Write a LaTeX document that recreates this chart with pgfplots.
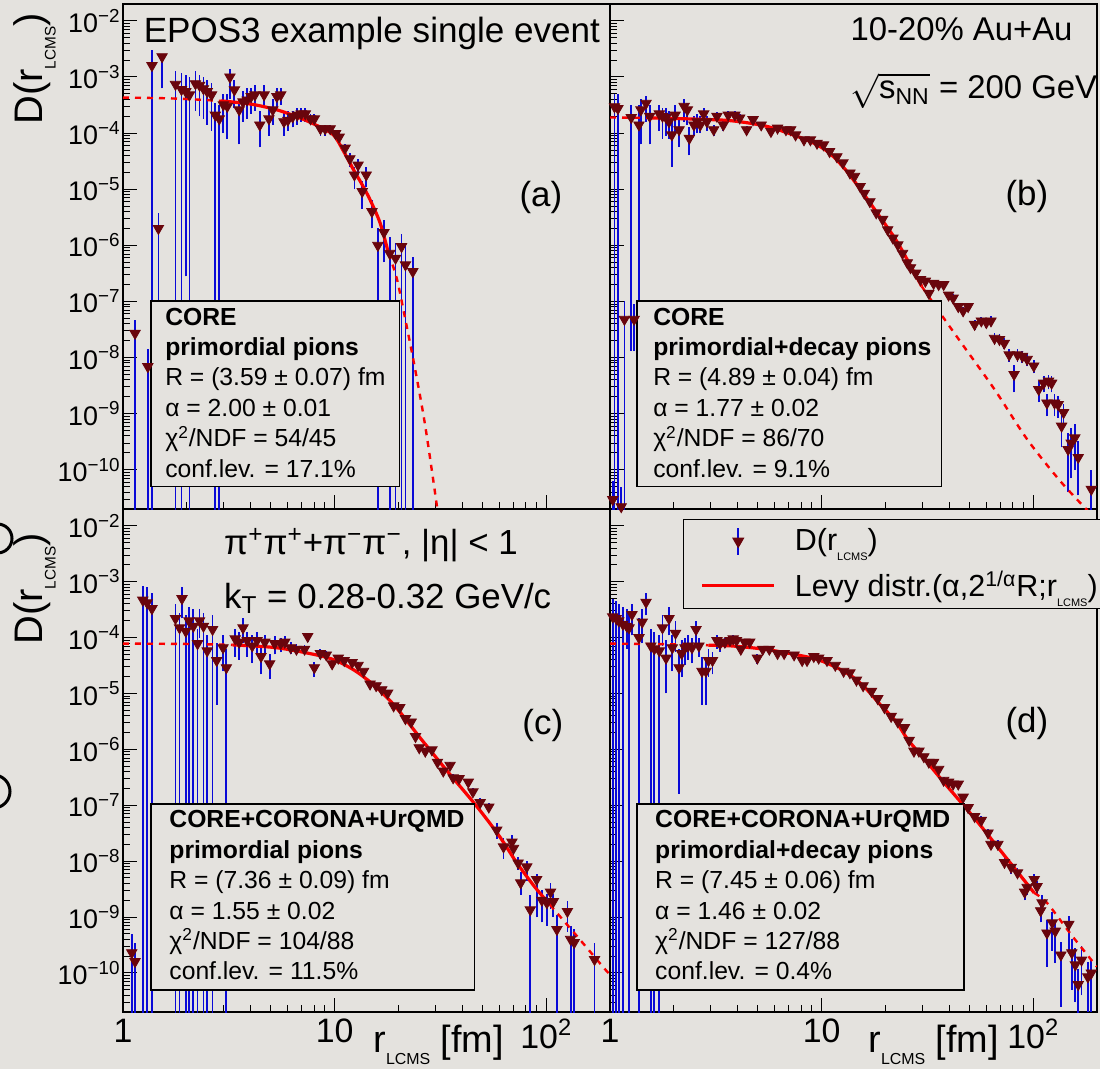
\documentclass[border=0pt]{standalone}
\usepackage{fontspec}
\setmainfont{Liberation Sans}
\usepackage{pgfplots}
\usepackage{pgfplotstable}
\pgfplotsset{compat=1.18}

\definecolor{bgc}{RGB}{228,226,222}
\definecolor{mkc}{RGB}{105,5,12}
\definecolor{ebc}{RGB}{10,10,215}
\definecolor{fitc}{RGB}{250,0,0}

\newcommand{\lcms}[1]{\raisebox{-0.32em}{\fontsize{#1}{#1}\selectfont LCMS}}
\newcommand{\stat}[1]{\begin{tabular}[t]{@{}l@{}}#1\end{tabular}}
\newcommand{\boxf}{\fontsize{12.4}{15.25}\selectfont}
\newcommand{\bigf}{\fontsize{17.5}{20}\selectfont}

% r  y  lo  hi   (lo = 1e-12 : bar runs below the frame)
\pgfplotstableread{
r y lo hi
1.14 2.7e-8 1e-12 4.7e-8
1.31 6.9e-9 1e-12 1.4e-8
1.37 1.6e-3 1e-12 3.0e-3
1.47 2.0e-6 1e-7 3.7e-6
1.53 2.3e-3 6.3e-4 2.6e-3
1.77 7.4e-4 1e-12 1.3e-3
1.89 6.0e-4 1e-12 1.2e-3
1.98 5.5e-4 2.8e-7 1.1e-3
2.06 4.8e-4 1e-12 1.0e-3
2.20 7.6e-4 2.5e-4 1.26e-3
2.30 7.1e-4 2.0e-4 1.1e-3
2.40 6.2e-4 1.8e-4 1.0e-3
2.50 5.5e-4 1.4e-4 8.9e-4
2.62 4.8e-4 1.1e-4 7.9e-4
2.73 2.1e-4 1e-12 3.5e-4
2.85 1.8e-4 1e-12 3.2e-4
2.98 3.2e-4 1.0e-4 5.0e-4
3.11 3.0e-4 7.9e-5 5.0e-4
3.20 1.0e-3 4.0e-4 1.4e-3
3.36 5.9e-4 2.8e-4 8.9e-4
3.54 2.6e-4 6.3e-5 4.0e-4
3.69 3.6e-4 1.6e-4 5.6e-4
3.86 3.9e-4 1.8e-4 6.3e-4
4.03 4.5e-4 2.2e-4 6.3e-4
4.20 4.8e-4 2.5e-4 7.1e-4
4.43 1.4e-4 5.6e-5 2.5e-4
4.64 4.8e-4 2.8e-4 7.1e-4
4.89 1.8e-4 8.9e-5 2.8e-4
5.10 2.6e-4 1.4e-4 4.0e-4
5.33 4.5e-4 2.8e-4 6.3e-4
5.56 4.8e-4 3.2e-4 6.3e-4
5.76 1.6e-4 8.9e-5 2.5e-4
6.01 1.7e-4 1.1e-4 2.5e-4
6.33 1.95e-4 1.26e-4 2.5e-4
6.66 2.1e-4 1.4e-4 2.8e-4
6.96 2.2e-4 1.6e-4 2.8e-4
7.27 2.2e-4 1.6e-4 2.8e-4
7.69 1.8e-4 1.4e-4 2.2e-4
8.02 1.8e-4 1.4e-4 2.2e-4
8.57 1.2e-4 8.9e-5 1.4e-4
9.02 1.2e-4 8.9e-5 1.4e-4
9.53 1.2e-4 1.0e-4 1.4e-4
10.1 9.8e-5 7.9e-5 1.1e-4
10.5 8.5e-5 7.1e-5 1.0e-4
11.2 5.4e-5 4.5e-5 6.3e-5
11.8 3.5e-5 2.5e-5 4.5e-5
12.4 1.8e-5 1.0e-5 2.5e-5
12.9 2.7e-5 1.8e-5 3.5e-5
13.5 9.1e-6 4.5e-6 1.4e-5
14.1 1.8e-5 1.1e-5 2.5e-5
15.0 4.0e-6 2.0e-6 6.3e-6
16.0 1.0e-6 1e-12 2.0e-6
17.1 1.7e-6 5.0e-7 2.8e-6
18.2 7.2e-7 1e-12 1.4e-6
19.4 5.9e-7 1e-12 1.1e-6
20.7 9.5e-7 1e-12 1.6e-6
21.6 4.5e-7 1e-12 1.0e-6
23.4 3.4e-7 1e-12 6.3e-7
}\dataA

\pgfplotstableread{
r y lo hi
1.03 2.95e-11 1e-12 6.3e-11
1.05 2.95e-4 1e-12 5.0e-4
1.09 2.75e-4 1e-12 5.0e-4
1.13 2.2e-11 1e-12 5.0e-11
1.17 4.8e-8 1e-12 1.0e-7
1.26 1.9e-4 1.3e-8 3.2e-4
1.30 4.8e-8 1.3e-8 9.0e-8
1.37 1.4e-4 1.3e-8 3.2e-4
1.40 2.6e-4 6.3e-5 4.0e-4
1.48 3.4e-4 1.6e-4 4.5e-4
1.54 2.0e-4 6.3e-5 3.2e-4
1.71 2.2e-4 1.1e-4 3.2e-4
1.77 2.0e-4 7.9e-5 2.8e-4
1.84 1.9e-4 8.9e-5 2.8e-4
1.90 1.6e-4 7.9e-5 2.5e-4
1.96 9.3e-5 2.5e-5 1.6e-4
2.03 2.1e-4 1.0e-4 3.2e-4
2.12 1.15e-4 5.6e-5 1.8e-4
2.24 3.0e-4 1.6e-4 4.0e-4
2.32 2.6e-4 1.4e-4 3.5e-4
2.37 8.1e-5 4.0e-5 1.26e-4
2.49 1.4e-4 8.9e-5 2.0e-4
2.58 1.6e-4 1.0e-4 2.2e-4
2.67 1.4e-4 1.0e-4 2.0e-4
2.77 2.2e-4 1.6e-4 2.8e-4
2.87 1.6e-4 1.1e-4 2.0e-4
3.09 1.15e-4 8.9e-5 1.4e-4
3.20 2.0e-4 1.6e-4 2.4e-4
3.43 1.4e-4 1.1e-4 1.8e-4
3.62 2.1e-4 1.75e-4 2.45e-4
3.89 2.1e-4 1.75e-4 2.45e-4
4.10 1.86e-4 1.6e-4 2.2e-4
4.42 1.15e-4 9.5e-5 1.35e-4
4.74 1.74e-4 1.5e-4 2.0e-4
5.18 1.4e-4 1.23e-4 1.6e-4
5.76 1.07e-4 9.3e-5 1.23e-4
6.19 1.23e-4 1.1e-4 1.4e-4
6.78 1.15e-4 1.03e-4 1.3e-4
7.14 1.15e-4 1.03e-4 1.3e-4
7.53 9.3e-5 8.3e-5 1.05e-4
8.25 7.6e-5 6.8e-5 8.5e-5
8.85 7.6e-5 6.8e-5 8.5e-5
9.51 6.6e-5 5.9e-5 7.4e-5
10.2 6.2e-5 5.6e-5 6.9e-5
10.9 4.7e-5 4.2e-5 5.2e-5
11.8 3.8e-5 3.4e-5 4.2e-5
12.6 2.95e-5 2.65e-5 3.3e-5
13.6 1.95e-5 1.75e-5 2.2e-5
14.3 1.7e-5 1.5e-5 1.9e-5
15.2 1.12e-5 1.0e-5 1.25e-5
15.9 8.5e-6 7.6e-6 9.5e-6
16.9 6.0e-6 5.4e-6 6.7e-6
18.1 3.8e-6 3.4e-6 4.2e-6
19.4 2.9e-6 2.6e-6 3.2e-6
20.5 1.9e-6 1.7e-6 2.1e-6
21.7 1.35e-6 1.2e-6 1.5e-6
22.9 1.02e-6 9.0e-7 1.15e-6
24.1 7.2e-7 6.3e-7 8.1e-7
25.4 4.9e-7 4.3e-7 5.5e-7
26.3 4.0e-7 3.5e-7 4.5e-7
27.8 3.2e-7 2.8e-7 3.6e-7
29.3 2.45e-7 2.1e-7 2.8e-7
30.9 2.3e-7 2.0e-7 2.6e-7
32.1 1.4e-7 1.2e-7 1.6e-7
33.8 2.1e-7 1.8e-7 2.4e-7
35.7 2.0e-7 1.7e-7 2.3e-7
37.7 2.0e-7 1.7e-7 2.3e-7
39.8 1.3e-7 1.1e-7 1.5e-7
41.8 1.15e-7 9.5e-8 1.35e-7
44.2 8.1e-8 6.8e-8 9.5e-8
46.6 6.8e-8 5.6e-8 8.0e-8
49.2 8.1e-8 6.8e-8 9.5e-8
52.8 3.9e-8 3.1e-8 4.7e-8
56.8 4.5e-8 3.7e-8 5.3e-8
60.0 4.2e-8 3.4e-8 5.0e-8
63.1 4.5e-8 3.6e-8 5.4e-8
65.6 2.2e-8 1.7e-8 2.7e-8
69.2 2.1e-8 1.6e-8 2.6e-8
72.9 1.8e-8 1.4e-8 2.2e-8
76.9 1.12e-8 8.5e-9 1.4e-8
81.1 5.0e-9 2.4e-9 7.5e-9
84.2 1.12e-8 8.5e-9 1.4e-8
88.8 1.05e-8 8.0e-9 1.3e-8
93.5 9.3e-9 7.0e-9 1.15e-8
100.5 7.1e-9 5.3e-9 9.0e-9
106 2.7e-9 1.6e-9 3.8e-9
112 3.5e-9 2.4e-9 4.6e-9
116 1.55e-9 9.0e-10 2.2e-9
118 3.8e-9 2.7e-9 4.9e-9
122 3.5e-9 2.4e-9 4.6e-9
126 1.55e-9 9.0e-10 2.2e-9
131 1.45e-9 8.5e-10 2.1e-9
136 6.0e-10 2.5e-10 9.5e-10
139 1.05e-9 5.5e-10 1.5e-9
146 2.3e-10 4.0e-11 4.5e-10
151 3.0e-10 7.0e-11 5.5e-10
157 3.7e-10 1.0e-10 6.5e-10
163 1.66e-10 3.5e-11 3.2e-10
188 4.5e-11 1e-12 1.0e-10
}\dataB

\pgfplotstableread{
r y lo hi
1.10 2.3e-10 1e-12 5.0e-10
1.14 1.6e-10 1e-12 3.5e-10
1.24 4.7e-4 1e-12 8.5e-4
1.30 4.2e-4 1e-12 8.0e-4
1.37 3.3e-4 1e-12 6.3e-4
1.77 2.2e-4 1e-12 4.0e-4
1.85 1.5e-4 1e-12 2.8e-4
1.90 5.0e-4 2.2e-4 8.0e-4
1.98 1.3e-4 1e-12 2.5e-4
2.05 2.0e-4 1e-12 3.5e-4
2.15 1.6e-4 1e-12 3.2e-4
2.25 7.8e-5 1e-12 1.4e-4
2.30 2.0e-4 1.0e-4 3.2e-4
2.40 1.6e-4 1e-12 2.8e-4
2.50 5.8e-5 1e-12 1.1e-4
2.65 1.4e-4 1e-12 2.5e-4
2.77 3.9e-5 6.3e-6 8.0e-5
2.97 6.6e-5 2.5e-5 1.1e-4
3.08 2.9e-5 1e-12 6.3e-5
3.39 9.5e-5 4.5e-5 1.4e-4
3.54 8.3e-5 4.0e-5 1.26e-4
3.69 1.5e-4 7.9e-5 2.2e-4
3.86 8.9e-5 4.5e-5 1.26e-4
4.08 7.1e-5 3.5e-5 1.1e-4
4.30 8.9e-5 5.0e-5 1.26e-4
4.49 4.6e-5 2.2e-5 7.1e-5
4.68 8.3e-5 5.0e-5 1.1e-4
4.93 3.4e-5 1.8e-5 5.0e-5
5.21 7.8e-5 5.0e-5 1.05e-4
5.56 7.8e-5 5.5e-5 1.0e-4
5.81 8.3e-5 6.0e-5 1.05e-4
6.20 6.6e-5 5.0e-5 8.3e-5
6.60 6.2e-5 4.8e-5 7.6e-5
7.21 6.2e-5 4.9e-5 7.4e-5
7.46 1.05e-4 8.5e-5 1.2e-4
8.02 2.9e-5 2.0e-5 3.6e-5
8.56 5.2e-5 4.2e-5 6.2e-5
9.13 4.9e-5 4.1e-5 5.8e-5
9.73 3.4e-5 2.8e-5 4.0e-5
10.4 4.3e-5 3.7e-5 4.9e-5
11.1 3.9e-5 3.4e-5 4.4e-5
12.1 3.6e-5 3.2e-5 4.0e-5
12.9 3.2e-5 2.8e-5 3.6e-5
13.7 2.5e-5 2.2e-5 2.8e-5
14.7 1.48e-5 1.3e-5 1.65e-5
15.7 1.38e-5 1.22e-5 1.55e-5
16.7 1.17e-5 1.04e-5 1.3e-5
17.8 1.02e-5 9.0e-6 1.15e-5
19.0 6.0e-6 5.3e-6 6.8e-6
20.3 5.6e-6 5.0e-6 6.3e-6
21.6 3.55e-6 3.1e-6 4.0e-6
23.0 3.1e-6 2.75e-6 3.5e-6
24.1 1.7e-6 1.5e-6 1.9e-6
25.1 1.07e-6 9.4e-7 1.2e-6
26.8 9.3e-7 8.2e-7 1.05e-6
28.8 9.8e-7 8.6e-7 1.1e-6
30.6 5.9e-7 5.1e-7 6.7e-7
32.6 4.1e-7 3.5e-7 4.7e-7
35.1 5.2e-7 4.5e-7 6.0e-7
36.3 3.1e-7 2.6e-7 3.6e-7
38.7 3.0e-7 2.5e-7 3.5e-7
42.8 2.6e-7 2.2e-7 3.0e-7
45.0 1.74e-7 1.45e-7 2.0e-7
48.7 1.12e-7 9.0e-8 1.35e-7
53.5 9.3e-8 7.5e-8 1.1e-7
58.3 3.6e-8 2.5e-8 4.8e-8
62.8 1.8e-8 1.1e-8 2.6e-8
68.8 2.2e-8 1.6e-8 2.9e-8
70.0 1.7e-8 1.0e-8 2.3e-8
73.6 9.3e-9 7.0e-9 1.2e-8
75.7 4.1e-9 2.5e-9 6.3e-9
80.8 7.9e-9 4.5e-9 1.0e-8
84.0 1.35e-9 1e-12 2.5e-9
90.0 4.7e-9 1.0e-9 6.0e-9
95.3 2.0e-9 8.0e-10 3.0e-9
100.6 1.8e-9 7.0e-10 2.6e-9
104.7 2.8e-9 1.4e-9 4.0e-9
108.0 1.9e-9 1.0e-9 2.6e-9
112.2 6.0e-10 1e-12 1.1e-9
125.8 1.26e-9 5.5e-10 1.9e-9
130.3 4.0e-10 1e-12 7.0e-10
135.5 3.5e-10 1e-12 6.0e-10
169 1.74e-10 1e-12 3.4e-10
}\dataC

\pgfplotstableread{
r y lo hi
1.03 2.35e-4 1e-12 5.0e-4
1.07 2.2e-4 1e-12 4.5e-4
1.10 2.0e-4 1e-12 4.0e-4
1.15 1.74e-4 1e-12 3.5e-4
1.20 1.6e-4 6.3e-5 3.2e-4
1.23 1.5e-4 1e-12 2.8e-4
1.27 2.6e-4 1.1e-4 4.0e-4
1.37 1.0e-4 1e-12 2.2e-4
1.42 1.9e-4 7.9e-5 3.2e-4
1.48 4.3e-4 2.5e-4 6.3e-4
1.56 7.1e-5 1e-12 1.4e-4
1.62 6.3e-5 1e-12 1.26e-4
1.71 5.8e-5 1e-12 1.1e-4
1.77 1.5e-4 7.1e-5 2.5e-4
1.84 4.3e-5 1.0e-5 8.9e-5
1.90 2.2e-4 1.1e-4 3.5e-4
1.97 6.6e-5 2.5e-5 1.1e-4
2.04 1.2e-4 5.6e-5 2.0e-4
2.12 2.9e-5 1.6e-7 6.3e-5
2.18 5.2e-5 2.0e-5 8.9e-5
2.26 6.6e-5 3.2e-5 1.0e-4
2.34 7.1e-5 4.0e-5 1.1e-4
2.44 6.6e-5 3.5e-5 1.0e-4
2.55 1.4e-4 7.9e-5 2.0e-4
2.63 7.1e-5 4.5e-5 1.0e-4
2.72 2.5e-5 6.3e-6 4.5e-5
2.84 2.5e-5 6.3e-6 4.5e-5
2.92 3.9e-5 2.0e-5 6.3e-5
3.05 3.9e-5 2.2e-5 5.6e-5
3.20 8.9e-5 6.3e-5 1.1e-4
3.31 7.8e-5 5.6e-5 1.0e-4
3.49 8.3e-5 6.5e-5 1.0e-4
3.69 8.9e-5 7.2e-5 1.05e-4
3.82 9.5e-5 7.8e-5 1.1e-4
3.96 8.9e-5 7.4e-5 1.05e-4
4.15 6.2e-5 5.0e-5 7.4e-5
4.33 8.3e-5 7.0e-5 9.6e-5
4.57 8.3e-5 7.0e-5 9.6e-5
4.97 4.3e-5 3.4e-5 5.1e-5
5.27 6.2e-5 5.3e-5 7.1e-5
5.66 6.2e-5 5.4e-5 7.0e-5
6.19 5.2e-5 4.6e-5 5.9e-5
6.65 5.2e-5 4.6e-5 5.9e-5
7.41 4.9e-5 4.4e-5 5.4e-5
8.09 3.9e-5 3.5e-5 4.3e-5
8.53 3.9e-5 3.5e-5 4.3e-5
9.18 4.6e-5 4.1e-5 5.1e-5
9.68 4.3e-5 3.9e-5 4.7e-5
10.6 3.9e-5 3.5e-5 4.3e-5
11.6 3.2e-5 2.9e-5 3.5e-5
12.7 2.5e-5 2.25e-5 2.75e-5
13.6 2.35e-5 2.1e-5 2.6e-5
14.6 1.74e-5 1.57e-5 1.9e-5
15.7 1.38e-5 1.24e-5 1.52e-5
17.2 1.1e-5 9.9e-6 1.2e-5
18.4 8.1e-6 7.3e-6 8.9e-6
19.8 5.6e-6 5.0e-6 6.2e-6
21.3 3.9e-6 3.5e-6 4.3e-6
22.9 3.1e-6 2.8e-6 3.4e-6
24.6 2.45e-6 2.2e-6 2.7e-6
25.9 1.45e-6 1.3e-6 1.6e-6
27.3 9.3e-7 8.3e-7 1.03e-6
28.8 9.3e-7 8.3e-7 1.03e-6
30.4 7.4e-7 6.6e-7 8.2e-7
32.1 5.9e-7 5.2e-7 6.6e-7
33.8 5.9e-7 5.2e-7 6.6e-7
35.7 4.4e-7 3.9e-7 4.9e-7
37.7 2.8e-7 2.45e-7 3.15e-7
39.8 2.6e-7 2.3e-7 2.9e-7
41.8 2.4e-7 2.1e-7 2.7e-7
44.2 2.4e-7 2.1e-7 2.7e-7
46.6 1.4e-7 1.2e-7 1.6e-7
49.2 9.1e-8 7.8e-8 1.04e-7
52.8 6.3e-8 5.3e-8 7.3e-8
56.8 5.4e-8 4.5e-8 6.3e-8
61.1 3.2e-8 2.6e-8 3.8e-8
63.1 2.0e-8 1.6e-8 2.4e-8
68.0 2.0e-8 1.6e-8 2.4e-8
73.1 9.5e-9 7.5e-9 1.15e-8
78.6 7.8e-9 6.0e-9 9.6e-9
84.2 6.2e-9 4.7e-9 7.7e-9
91.0 2.8e-9 2.0e-9 3.7e-9
93.5 3.4e-9 2.5e-9 4.3e-9
101 4.7e-9 3.5e-9 5.8e-9
104 3.5e-9 2.6e-9 4.4e-9
108.3 1.3e-9 8.0e-10 1.8e-9
110 1.8e-9 1.2e-9 2.5e-9
116 5.2e-10 1.3e-10 9.0e-10
123 7.9e-10 2.5e-10 1.25e-9
127 5.6e-10 1.5e-10 9.0e-10
135 2.1e-10 2.5e-11 3.6e-10
147 7.4e-10 2.5e-10 1.05e-9
152 2.3e-10 5.0e-11 4.1e-10
158 1.4e-10 3.0e-11 2.8e-10
163 6.2e-11 1e-12 1.2e-10
169 1.7e-10 4.0e-11 3.0e-10
181 8.5e-11 2.0e-11 1.6e-10
188 1.0e-10 2.0e-11 1.8e-10
}\dataD

\pgfplotsset{
  every axis/.append style={
    xmode=log, ymode=log, scale only axis, width=243.5bp,
    xmin=1, xmax=200, ymin=2e-11, ymax=2e-2,
    axis line style={line width=0.6bp},
    tick align=inside, xtick pos=bottom, ytick pos=left,
    major tick length=7bp, minor tick length=3.5bp,
    every tick/.append style={line width=0.5bp, black},
    xtick={1,10,100},
    minor xtick={2,3,4,5,6,7,8,9,20,30,40,50,60,70,80,90,200},
    ytick={1e-10,1e-9,1e-8,1e-7,1e-6,1e-5,1e-4,1e-3,1e-2},
    minor ytick={2e-11,3e-11,4e-11,5e-11,6e-11,7e-11,8e-11,9e-11,
      2e-10,3e-10,4e-10,5e-10,6e-10,7e-10,8e-10,9e-10,
      2e-9,3e-9,4e-9,5e-9,6e-9,7e-9,8e-9,9e-9,
      2e-8,3e-8,4e-8,5e-8,6e-8,7e-8,8e-8,9e-8,
      2e-7,3e-7,4e-7,5e-7,6e-7,7e-7,8e-7,9e-7,
      2e-6,3e-6,4e-6,5e-6,6e-6,7e-6,8e-6,9e-6,
      2e-5,3e-5,4e-5,5e-5,6e-5,7e-5,8e-5,9e-5,
      2e-4,3e-4,4e-4,5e-4,6e-4,7e-4,8e-4,9e-4,
      2e-3,3e-3,4e-3,5e-3,6e-3,7e-3,8e-3,9e-3,2e-2},
    xticklabel style={font=\fontsize{17}{18}\selectfont},
    yticklabel style={font=\fontsize{13.5}{14}\selectfont, inner xsep=1bp},
  },
  % markers only, with every error-bar setting switched off
  myP/.style={color=ebc, only marks, mark=triangle*, mark size=3bp,
    mark options={rotate=180, fill=mkc, draw=mkc},
    error bars/y dir=none, error bars/x dir=none},
  % bars only: the plot itself draws nothing (no line, invisible zero-size marks)
  myE/.style={color=ebc, forget plot, only marks, mark=*, mark size=0pt,
    mark options={draw=none, fill=none},
    error bars/x dir=none, error bars/y dir=plus, error bars/y explicit, error bars/error mark=none,
    error bars/error bar style={draw=ebc, solid, line width=0.9bp}},
  myL/.style={color=fitc, line width=1.6bp, smooth, no markers,
    error bars/y dir=none, error bars/x dir=none},
  myD/.style={color=fitc, line width=1.2bp, dash pattern=on 3bp off 3bp, smooth, no markers,
    forget plot, error bars/y dir=none, error bars/x dir=none},
}

\begin{document}
\begin{tikzpicture}
\path[use as bounding box, fill=bgc] (-61.5bp,-28.5bp) rectangle (488.5bp,506bp);
\draw[black, line width=1.5bp] (-62.75bp,236.75bp) circle (7.25bp);
\draw[black, line width=1.5bp] (-64.75bp,110.25bp) circle (8.25bp);

% ---------------- (c) bottom left
\begin{axis}[name=c, at={(0bp,0bp)}, anchor=south west, height=251.5bp,
  xticklabels={1,10,10\textsuperscript{2}},
  yticklabels={10\textsuperscript{−10},10\textsuperscript{−9},10\textsuperscript{−8},
      10\textsuperscript{−7},10\textsuperscript{−6},10\textsuperscript{−5},
      10\textsuperscript{−4},10\textsuperscript{−3},10\textsuperscript{−2}}]
\addplot[myE] table[x=r, y=lo, y error plus expr=\thisrow{hi}-\thisrow{lo}] {\dataC};
\addplot[myP] table[x=r, y=y] {\dataC};
\addplot[myD] coordinates {(1,7.8e-5) (2,7.7e-5) (3.3,7.4e-5)};
\addplot[myL, forget plot] coordinates {(3.3,7.4e-5) (5.3,6.6e-5) (8.2,4.9e-5) (10.1,3.9e-5)
  (12.6,2.5e-5) (15.7,1.3e-5) (19.4,5.8e-6) (25.8,1.48e-6) (35,3.6e-7) (47,9.5e-8)
  (60,2.8e-8) (72.6,9.3e-9) (88,3.5e-9) (104,1.66e-9)};
\addplot[myD] coordinates {(104,1.66e-9) (140,4.5e-10) (190,1.15e-10) (200,9.5e-11)};
\node[anchor=base west, font=\bigf, inner sep=0] at (rel axis cs:0.207,0.909)
  {π\textsuperscript{+}π\textsuperscript{+}+π\textsuperscript{−}π\textsuperscript{−}, |η| < 1};
\node[anchor=base west, font=\bigf, inner sep=0] at (rel axis cs:0.207,0.803)
  {k\textsubscript{T} = 0.28-0.32 GeV/c};
\node[font=\bigf] at (rel axis cs:0.862,0.569) {(c)};
\draw[line width=0.6bp, fill=bgc] (rel axis cs:0.0575,0.0437) rectangle (rel axis cs:0.721,0.4135);
\node[anchor=base west, inner sep=0, font=\boxf] at (rel axis cs:0.0945,0.366)
  {\stat{\textbf{CORE+CORONA+UrQMD}\\\textbf{primordial pions}\\R = (7.36 ± 0.09) fm\\
   α = 1.55 ± 0.02\\χ\textsuperscript{2}/NDF = 104/88\\conf.lev. = 11.5\%}};
\end{axis}

% ---------------- (d) bottom right
\begin{axis}[name=d, at={(243.5bp,0bp)}, anchor=south west, height=251.5bp,
  xticklabels={1,10,10\textsuperscript{2}}, yticklabels={},
  legend style={at={(rel axis cs:0.150,0.980)}, anchor=north west, draw=black,
    line width=0.6bp, fill=bgc, font=\fontsize{15.3}{17}\selectfont,
    inner xsep=8.5bp, inner ysep=2.5bp, row sep=4.5bp, cells={anchor=west}}]
\addplot[myE] table[x=r, y=lo, y error plus expr=\thisrow{hi}-\thisrow{lo}] {\dataD};
\addplot[myP, legend image code/.code={
    \draw[draw=ebc, line width=0.9bp] (18bp,-6.75bp) -- (18bp,6.75bp);
    \path plot[mark=triangle*, mark size=3bp, mark options={rotate=180, fill=mkc, draw=mkc}]
      coordinates {(18bp,0bp)};
    \path (0bp,0bp) (43.5bp,0bp);}]
  table[x=r, y=y] {\dataD};
\addlegendentry{D(r\lcms{5.5})}
\addplot[myD] coordinates {(1,7.8e-5) (2,7.6e-5) (2.92,7.3e-5)};
\addplot[myL, legend image code/.code={\draw[fitc, line width=1.6bp] (0bp,0bp) -- (36bp,0bp);
    \path (43.5bp,0bp);}]
  coordinates {(2.92,7.3e-5) (3.75,7.1e-5) (5.36,6.2e-5) (7.68,4.9e-5) (9.85,3.9e-5)
  (13.1,2.35e-5) (15.7,1.38e-5) (18.8,6.5e-6) (22.5,3.1e-6) (25.6,1.48e-6) (32.1,5.4e-7)
  (38.2,2.45e-7) (45.8,1.1e-7) (55.1,4.8e-8) (65.6,2.1e-8) (78.6,8.9e-9) (93.5,3.9e-9) (101,2.7e-9)};
\addlegendentry{Levy distr.(α,2\textsuperscript{1/α}R;r\lcms{5.5})\hspace{6bp}}
\addplot[myD] coordinates {(101,2.7e-9) (116,1.8e-9) (150,5.0e-10) (192,1.55e-10) (200,1.3e-10)};
\node[font=\bigf] at (rel axis cs:0.856,0.573) {(d)};
\draw[line width=0.6bp, fill=bgc] (rel axis cs:0.0554,0.0437) rectangle (rel axis cs:0.727,0.4135);
\node[anchor=base west, inner sep=0, font=\boxf] at (rel axis cs:0.092,0.366)
  {\stat{\textbf{CORE+CORONA+UrQMD}\\\textbf{primordial+decay pions}\\R = (7.45 ± 0.06) fm\\
   α = 1.46 ± 0.02\\χ\textsuperscript{2}/NDF = 127/88\\conf.lev. = 0.4\%}};
\end{axis}

% ---------------- (a) top left
\begin{axis}[name=a, at={(0bp,251.5bp)}, anchor=south west, height=252.5bp,
  xticklabels={},
  yticklabels={10\textsuperscript{−10},10\textsuperscript{−9},10\textsuperscript{−8},
      10\textsuperscript{−7},10\textsuperscript{−6},10\textsuperscript{−5},
      10\textsuperscript{−4},10\textsuperscript{−3},10\textsuperscript{−2}}]
\addplot[myE] table[x=r, y=lo, y error plus expr=\thisrow{hi}-\thisrow{lo}] {\dataA};
\addplot[myP] table[x=r, y=y] {\dataA};
\addplot[myD] coordinates {(1,4.3e-4) (1.5,4.2e-4) (2,4.05e-4) (2.9,3.75e-4)};
\addplot[myL, forget plot] coordinates {(2.9,3.75e-4) (4,3.3e-4) (5.33,2.6e-4) (6.87,1.86e-4)
  (8.3,1.35e-4) (9.87,9.3e-5) (11,4.8e-5) (12.3,2.2e-5) (13.5,1.2e-5) (14.7,6.5e-6)
  (16.4,2.5e-6) (17.97,7.2e-7)};
\addplot[myD] coordinates {(17.97,7.2e-7) (19.7,2.5e-7) (21.9,3.6e-8) (24,6.2e-9) (26.8,6e-10)
  (30.4,2.3e-11) (31,1.2e-11)};
\node[anchor=base, font=\fontsize{17.6}{20}\selectfont, inner sep=0] at (rel axis cs:0.511,0.923)
  {EPOS3 example single event};
\node[font=\bigf] at (rel axis cs:0.858,0.616) {(a)};
\draw[line width=0.6bp, fill=bgc] (rel axis cs:0.0575,0.044) rectangle (rel axis cs:0.567,0.412);
\node[anchor=base west, inner sep=0, font=\boxf] at (rel axis cs:0.086,0.364)
  {\stat{\textbf{CORE}\\\textbf{primordial pions}\\R = (3.59 ± 0.07) fm\\
   α = 2.00 ± 0.01\\χ\textsuperscript{2}/NDF = 54/45\\conf.lev. = 17.1\%}};
\end{axis}

% ---------------- (b) top right
\begin{axis}[name=b, at={(243.5bp,251.5bp)}, anchor=south west, height=252.5bp,
  xticklabels={}, yticklabels={}]
\addplot[myE] table[x=r, y=lo, y error plus expr=\thisrow{hi}-\thisrow{lo}] {\dataB};
\addplot[myP] table[x=r, y=y] {\dataB};
\addplot[myD] coordinates {(1,1.9e-4) (1.54,1.87e-4)};
\addplot[myL, forget plot] coordinates {(1.54,1.87e-4) (2.5,1.78e-4) (3.75,1.66e-4) (5.5,1.32e-4)
  (7.7,8.7e-5) (9.2,6.6e-5) (10.9,4.4e-5) (13,2.2e-5) (15.7,8.5e-6) (18.5,3.55e-6)
  (22.4,1.26e-6) (26,4.7e-7) (29.7,1.86e-7)};
\addplot[myD] coordinates {(29.7,1.86e-7) (37,5.6e-8) (45.8,1.8e-8) (65.6,2.7e-9)
  (93.5,3.5e-10) (134,6.3e-11) (184,1.74e-11)};
\node[anchor=base west, font=\fontsize{16.5}{20}\selectfont, inner sep=0] at (rel axis cs:0.493,0.928)
  {10-20\% Au+Au};
\node[anchor=base west, font=\fontsize{16.5}{20}\selectfont, inner sep=0] at (rel axis cs:0.493,0.812)
  {$\sqrt{\hbox{s\textsubscript{NN}}}$ = 200 GeV};
\node[font=\bigf] at (rel axis cs:0.856,0.618) {(b)};
\draw[line width=0.6bp, fill=bgc] (rel axis cs:0.0554,0.044) rectangle (rel axis cs:0.680,0.412);
\node[anchor=base west, inner sep=0, font=\boxf] at (rel axis cs:0.088,0.364)
  {\stat{\textbf{CORE}\\\textbf{primordial+decay pions}\\R = (4.89 ± 0.04) fm\\
   α = 1.77 ± 0.02\\χ\textsuperscript{2}/NDF = 86/70\\conf.lev. = 9.1\%}};
\end{axis}

% axis titles
\node[rotate=90, anchor=east, inner sep=0, font=\fontsize{20}{22}\selectfont]
  at ([xshift=-44bp, yshift=-4.5bp]a.north west) {D(r\lcms{7.7})};
\node[rotate=90, anchor=east, inner sep=0, font=\fontsize{20}{22}\selectfont]
  at ([xshift=-44bp, yshift=-12bp]c.north west) {D(r\lcms{7.7})};
\node[anchor=base west, inner sep=0, font=\fontsize{19}{21}\selectfont]
  at ([xshift=125bp, yshift=-20bp]c.south west) {r\lcms{8} [fm]};
\node[anchor=base west, inner sep=0, font=\fontsize{19}{21}\selectfont]
  at ([xshift=129bp, yshift=-20bp]d.south west) {r\lcms{8} [fm]};
\end{tikzpicture}
\end{document}
